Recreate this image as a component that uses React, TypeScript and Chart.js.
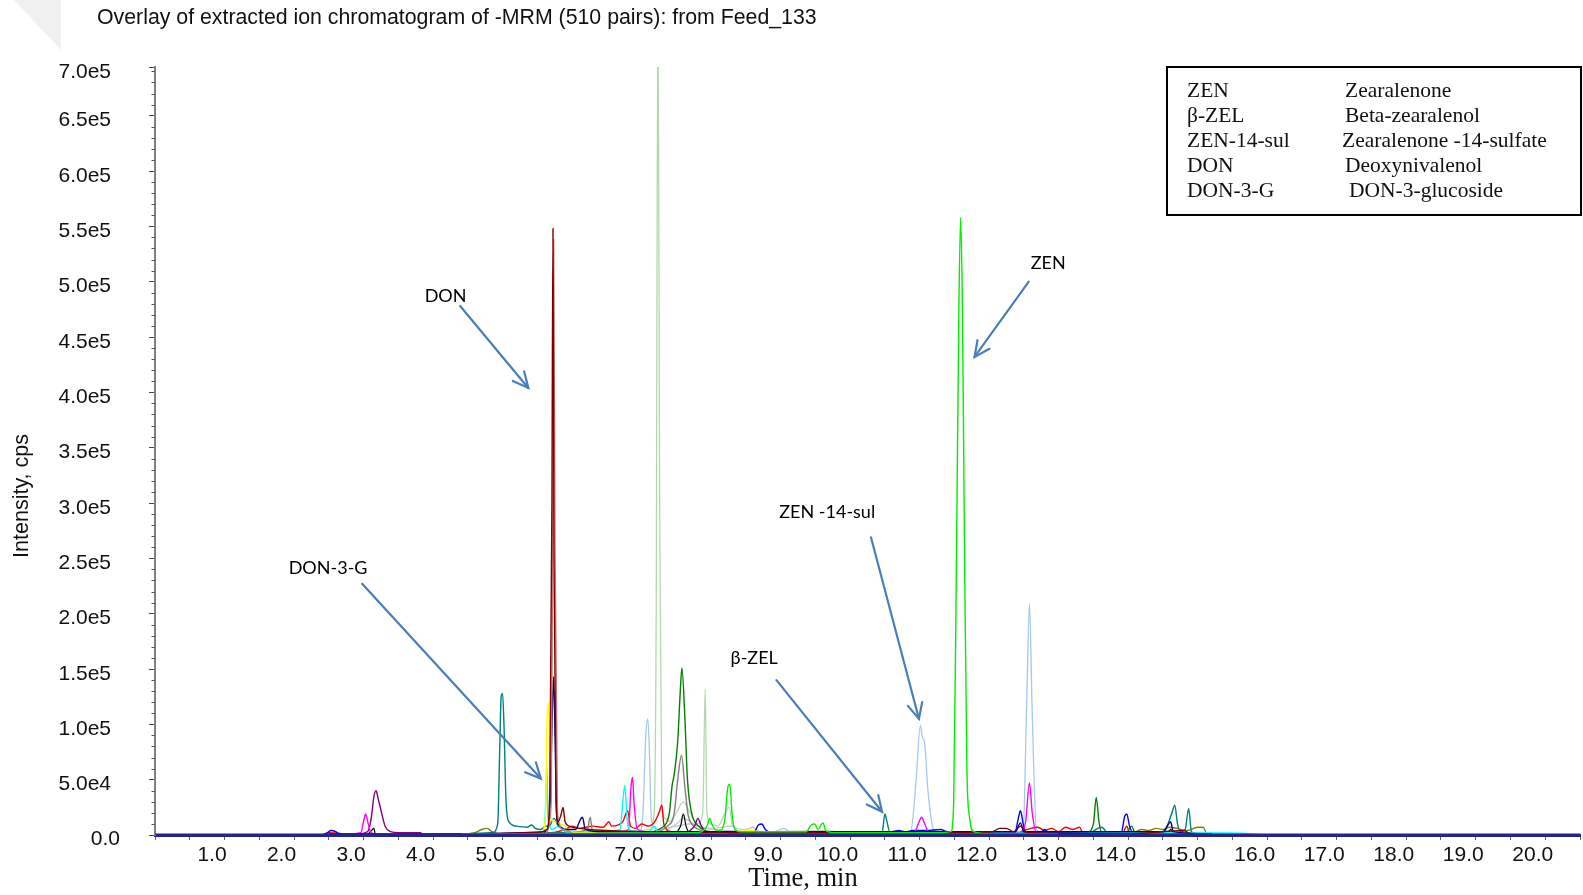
import React, { useEffect, useRef } from 'react';
import { Chart, registerables } from 'chart.js';

Chart.register(...registerables);

type Pt = [number, number];

// ---------- text ----------
const chartTitle = 'Overlay of extracted ion chromatogram of -MRM (510 pairs): from Feed_133';
const xAxisTitle = 'Time, min';
const yAxisTitle = 'Intensity, cps';

// ---------- axes ----------
const xMin = 0;
const xMax = 20.5;
const xMajorTicks = [1.0, 2.0, 3.0, 4.0, 5.0, 6.0, 7.0, 8.0, 9.0, 10.0, 11.0, 12.0, 13.0, 14.0, 15.0, 16.0, 17.0, 18.0, 19.0, 20.0];
const yMajorTicks = [0, 50000, 100000, 150000, 200000, 250000, 300000, 350000, 400000, 450000, 500000, 550000, 600000, 650000];
const yMax = 694000;
const yTopLabel = '7.0e5';

// ---------- legend table ----------
const legendAbbrev = ['ZEN', 'β-ZEL', 'ZEN-14-sul', 'DON', 'DON-3-G'];
const legendNames = ['Zearalenone', 'Beta-zearalenol', 'Zearalenone -14-sulfate', 'Deoxynivalenol', 'DON-3-glucoside'];

// ---------- annotations: label, label position, arrow start, arrow tip (time, cps) ----------
const annotationLabels = ['DON', 'ZEN', 'DON-3-G', 'ZEN -14-sul', 'β-ZEL'];
const annotationText: Pt[] = [[4.18, 487000], [12.85, 517000], [2.49, 241000], [9.67, 292000], [8.62, 160000]];
const annotationFrom: Pt[] = [[4.39, 478000], [12.57, 500000], [2.98, 227000], [10.30, 269000], [8.94, 140000]];
const annotationTip: Pt[] = [[5.37, 404000], [11.79, 432000], [5.55, 51000], [10.99, 105000], [10.46, 21000]];

// ---------- traces (time min, intensity cps) ----------
const baselineTrace: Pt[] = [[0, 0], [20.5, 0]];

const maroonTrace: Pt[] = [
  [4.5, 1000], [5.5, 2000], [5.64, 5000], [5.68, 40000], [5.71, 300000], [5.725, 548000], [5.74, 250000],
  [5.77, 30000], [5.8, 12000], [5.84, 18000], [5.87, 25000], [5.9, 12000], [5.96, 8000], [6.1, 6000],
  [6.5, 4000], [7.0, 3000], [8.0, 2000], [11.5, 2000], [12.05, 3000], [12.15, 6000], [12.25, 6000],
  [12.35, 3000], [12.45, 8000], [12.55, 2000], [14.0, 1000], [14.8, 4000], [14.9, 1000], [15.2, 500],
];
const indianRedTrace: Pt[] = [
  [5.62, 2000], [5.7, 30000], [5.72, 250000], [5.735, 538000], [5.755, 260000], [5.79, 20000], [5.87, 5000], [6.0, 2000],
];
const navyTrace: Pt[] = [
  [2.5, 1000], [4.4, 1000], [5.62, 3000], [5.68, 20000], [5.715, 110000], [5.735, 143000], [5.755, 90000],
  [5.78, 15000], [5.82, 8000], [5.9, 5000], [6.05, 5000], [6.12, 14000], [6.15, 16000], [6.19, 5000],
  [6.4, 3000], [7.0, 3000], [7.6, 3000], [10.5, 3000], [11.3, 3000], [12.38, 3000], [12.45, 11000],
  [12.5, 3000], [14.5, 3000], [14.58, 10000], [14.61, 12000], [14.65, 3000], [15.2, 1000],
];
const yellowTrace: Pt[] = [
  [4.8, 1000], [5.57, 2000], [5.62, 20000], [5.64, 100000], [5.66, 120000], [5.68, 60000], [5.7, 15000],
  [5.76, 12000], [5.82, 10000], [5.9, 8000], [5.96, 3000], [6.4, 2000], [7.3, 2000], [8.0, 1000], [8.6, 4000], [8.7, 1000],
];
const cyanTrace: Pt[] = [
  [4.4, 1000], [5.57, 1000], [5.615, 20000], [5.635, 64000], [5.655, 15000], [5.72, 5000], [5.8, 8000],
  [5.9, 3000], [6.3, 2000], [6.69, 5000], [6.73, 30000], [6.76, 45000], [6.79, 15000], [6.84, 4000],
  [7.1, 3000], [7.19, 8000], [7.23, 3000], [8.0, 2000], [9.0, 2000], [11.0, 2000], [13.0, 1500],
  [14.0, 2000], [15.0, 2000], [15.8, 1000], [16.0, 0],
];
const tealTrace: Pt[] = [
  [4.4, 1000], [4.85, 2000], [4.93, 10000], [4.96, 80000], [4.98, 125000], [5.0, 128000], [5.02, 100000],
  [5.05, 30000], [5.09, 12000], [5.2, 8000], [5.35, 7000], [5.42, 9000], [5.47, 6000], [5.55, 5000],
  [5.62, 8000], [5.67, 8000], [5.74, 15000], [5.8, 8000], [5.87, 5000], [6.0, 3000], [7.0, 2000],
  [10.0, 1500], [10.46, 2000], [10.5, 19000], [10.53, 12000], [10.57, 3000], [11.5, 2000], [13.4, 1000],
  [13.62, 7000], [13.72, 1000], [14.5, 2000], [14.63, 20000], [14.67, 27000], [14.71, 10000], [14.75, 3000],
  [14.82, 5000], [14.87, 24000], [14.91, 3000], [15.0, 1000], [15.3, 500],
];
const purpleTrace: Pt[] = [
  [2.8, 0], [3.06, 3000], [3.11, 15000], [3.15, 35000], [3.18, 40000], [3.21, 33000], [3.26, 20000],
  [3.31, 8000], [3.39, 3000], [3.5, 2000], [3.82, 2000], [3.85, 0], [4.4, 500], [7.6, 2000], [7.76, 8000],
  [7.81, 15000], [7.86, 8000], [7.96, 2000], [8.5, 1000], [15.0, 500],
];
const magentaTrace: Pt[] = [
  [2.5, 0], [2.96, 2000], [3.0, 12000], [3.03, 19000], [3.06, 12000], [3.1, 3000], [3.16, 1000],
  [3.3, 0], [4.4, 500], [6.0, 1000], [6.6, 2000], [6.81, 5000], [6.85, 45000], [6.87, 52000], [6.89, 30000],
  [6.94, 5000], [7.2, 2000], [8.0, 2000], [10.92, 2000], [10.98, 10000], [11.03, 16000], [11.08, 9000],
  [11.14, 2000], [12.42, 2000], [12.52, 10000], [12.58, 47000], [12.62, 20000], [12.68, 2000], [13.0, 1000], [15.0, 500],
];
const blueTrace: Pt[] = [
  [2.4, 0], [2.48, 2000], [2.53, 4000], [2.6, 3000], [2.65, 1000], [2.7, 0], [4.4, 500], [7.0, 2000],
  [8.62, 3000], [8.68, 9000], [8.73, 10000], [8.78, 5000], [8.87, 2000], [10.4, 2000], [10.6, 3000],
  [10.7, 4000], [10.8, 3000], [10.9, 4000], [11.1, 4000], [11.3, 5000], [11.4, 3000], [12.37, 2000],
  [12.42, 15000], [12.45, 22000], [12.49, 10000], [12.52, 3000], [12.75, 3000], [12.8, 5000], [12.85, 2000],
  [13.9, 2000], [13.95, 17000], [13.98, 19000], [14.02, 8000], [14.07, 2000], [15.0, 1000],
];
const paleBlueTrace: Pt[] = [
  [4.4, 1000], [6.5, 2000], [6.97, 3000], [7.02, 20000], [7.06, 90000], [7.09, 105000], [7.11, 80000],
  [7.14, 15000], [7.22, 5000], [7.5, 8000], [7.7, 10000], [8.0, 5000], [8.9, 3000], [9.05, 6000],
  [9.15, 2000], [10.5, 2000], [10.87, 3000], [10.95, 50000], [11.01, 99000], [11.04, 88000], [11.07, 84000],
  [11.12, 40000], [11.2, 5000], [11.3, 2000], [12.3, 2000], [12.49, 5000], [12.54, 120000], [12.58, 209000],
  [12.62, 110000], [12.68, 5000], [12.8, 2000], [14.0, 1000], [15.8, 1000],
];
const paleGreenTrace: Pt[] = [
  [4.4, 1000], [6.0, 2000], [6.9, 3000], [7.12, 5000], [7.18, 20000], [7.21, 200000], [7.235, 760000],
  [7.26, 300000], [7.29, 30000], [7.34, 15000], [7.4, 12000], [7.5, 20000], [7.6, 30000], [7.7, 20000],
  [7.8, 10000], [7.88, 20000], [7.915, 132000], [7.94, 20000], [8.0, 10000], [8.1, 8000], [8.2, 20000],
  [8.26, 25000], [8.31, 8000], [8.5, 5000], [8.6, 7000], [8.7, 3000], [9.6, 4000], [10.0, 2000],
  [11.0, 2000], [12.0, 1000], [13.5, 1000],
];
const greenTrace: Pt[] = [
  [4.4, 1000], [7.0, 2000], [7.32, 8000], [7.4, 20000], [7.44, 45000], [7.47, 55000], [7.52, 85000],
  [7.555, 128000], [7.58, 151000], [7.62, 110000], [7.66, 50000], [7.72, 20000], [7.82, 8000], [7.92, 4000],
  [8.0, 3000], [13.4, 2000], [13.5, 10000], [13.54, 34000], [13.58, 12000], [13.62, 2000], [13.97, 2000],
  [14.05, 8000], [14.1, 2000], [15.0, 1000],
];
const grayTrace: Pt[] = [
  [4.4, 1000], [5.9, 2000], [6.22, 5000], [6.26, 16000], [6.29, 5000], [6.5, 3000], [7.2, 3000],
  [7.37, 8000], [7.47, 20000], [7.52, 50000], [7.575, 72000], [7.62, 45000], [7.67, 18000], [7.72, 10000],
  [7.82, 5000], [8.0, 2000], [9.0, 1000],
];
const silverTrace: Pt[] = [
  [7.3, 2000], [7.5, 10000], [7.6, 15000], [7.7, 12000], [7.8, 8000], [8.0, 6000], [8.3, 8000], [8.4, 3000], [9.0, 1000],
];
const blackTrace: Pt[] = [
  [3.05, 0], [3.1, 3000], [3.15, 6000], [3.17, 0], [7.4, 500], [7.56, 8000], [7.6, 19000], [7.64, 8000],
  [7.7, 1000], [14.56, 1000], [14.61, 5000], [14.66, 1000],
];
const limeTrace: Pt[] = [
  [4.4, 1000], [7.8, 2000], [7.94, 8000], [7.98, 15000], [8.01, 10000], [8.06, 5000], [8.13, 4000],
  [8.2, 15000], [8.24, 43000], [8.27, 46000], [8.3, 20000], [8.34, 5000], [8.42, 3000], [9.37, 3000],
  [9.44, 9000], [9.49, 10000], [9.54, 5000], [9.58, 9000], [9.61, 11000], [9.65, 4000], [9.8, 2000],
  [11.3, 2000], [11.45, 3000], [11.49, 30000], [11.53, 250000], [11.565, 478000], [11.59, 558000],
  [11.615, 478000], [11.65, 230000], [11.68, 60000], [11.72, 15000], [11.78, 3000], [11.9, 1500], [13.0, 1000],
];
const redTrace: Pt[] = [
  [2.4, 0], [2.5, 2000], [2.7, 1000], [2.8, 0], [4.4, 500], [5.7, 2000], [5.9, 5000], [6.0, 8000],
  [6.1, 6000], [6.3, 8000], [6.45, 7000], [6.53, 12000], [6.57, 8000], [6.66, 9000], [6.73, 12000],
  [6.8, 22000], [6.84, 8000], [6.92, 6000], [7.0, 10000], [7.1, 8000], [7.19, 12000], [7.25, 20000],
  [7.29, 27000], [7.32, 10000], [7.42, 3000], [7.6, 2000], [8.0, 1000], [12.4, 1000], [12.5, 4000],
  [12.6, 6000], [12.7, 7000], [12.8, 4000], [12.9, 6000], [13.0, 3000], [13.1, 7000], [13.2, 5000],
  [13.3, 7000], [13.35, 2000], [13.92, 2000], [13.98, 8000], [14.02, 2000], [15.0, 500],
];
const oliveTrace: Pt[] = [
  [4.4, 500], [4.6, 2000], [4.7, 5000], [4.78, 6000], [4.85, 3000], [4.95, 1000], [6.0, 1000],
  [13.8, 1000], [14.1, 3000], [14.2, 5000], [14.3, 4000], [14.4, 6000], [14.5, 5000], [14.6, 7000],
  [14.7, 6000], [14.85, 4000], [15.0, 7000], [15.08, 7000], [15.13, 1000], [15.3, 0],
];

// drawing order: first = top
const traces: { data: Pt[]; color: string; width: number }[] = [
  { data: baselineTrace, color: '#25258c', width: 3 },
  { data: limeTrace, color: '#00ee00', width: 1.4 },
  { data: maroonTrace, color: '#800000', width: 1.4 },
  { data: indianRedTrace, color: '#c47a7a', width: 1.4 },
  { data: navyTrace, color: '#000080', width: 1.4 },
  { data: yellowTrace, color: '#ffff00', width: 1.4 },
  { data: cyanTrace, color: '#00ffff', width: 1.4 },
  { data: tealTrace, color: '#008080', width: 1.4 },
  { data: magentaTrace, color: '#ff00ff', width: 1.4 },
  { data: purpleTrace, color: '#800080', width: 1.4 },
  { data: blueTrace, color: '#0000ff', width: 1.4 },
  { data: blackTrace, color: '#000000', width: 1.2 },
  { data: greenTrace, color: '#008000', width: 1.4 },
  { data: grayTrace, color: '#808080', width: 1.4 },
  { data: redTrace, color: '#ff0000', width: 1.4 },
  { data: oliveTrace, color: '#808000', width: 1.4 },
  { data: silverTrace, color: '#c8c8c8', width: 1.2 },
  { data: paleBlueTrace, color: '#a6c8ec', width: 1.3 },
  { data: paleGreenTrace, color: '#b4d8ae', width: 1.3 },
];

const SANS = "'Liberation Sans', Arial, sans-serif";
const NARROW = "'Liberation Sans Narrow', 'Arial Narrow', 'Liberation Sans', sans-serif";
const SERIF = "'Liberation Serif', 'Times New Roman', serif";
const NOTE = "Lato, 'Open Sans', sans-serif";

function formatIntensity(v: number): string {
  if (v === 0) return '0.0';
  const e = Math.floor(Math.log10(v) + 1e-9);
  return (v / Math.pow(10, e)).toFixed(1) + 'e' + e;
}

const decorPlugin = {
  id: 'decor',
  beforeDraw(chart: any) {
    const ctx = chart.ctx;
    ctx.save();
    ctx.fillStyle = '#f0f0f0';
    ctx.beginPath();
    ctx.moveTo(14, 0);
    ctx.lineTo(61, 0);
    ctx.lineTo(61, 50);
    ctx.closePath();
    ctx.fill();
    ctx.restore();
  },
  afterDraw(chart: any) {
    const ctx = chart.ctx;
    const xs = chart.scales.x;
    const ys = chart.scales.y;
    const area = chart.chartArea;
    ctx.save();

    // minor y ticks every 1e4
    ctx.strokeStyle = '#555';
    ctx.lineWidth = 1;
    for (let v = 10000; v < yMax; v += 10000) {
      if (v % 50000 === 0) continue;
      const py = Math.round(ys.getPixelForValue(v)) + 0.5;
      ctx.beginPath();
      ctx.moveTo(area.left - 3.5, py);
      ctx.lineTo(area.left, py);
      ctx.stroke();
    }

    // zero label of the y axis (sits further right in the original)
    ctx.fillStyle = '#111';
    ctx.font = `21px ${SANS}`;
    ctx.textAlign = 'right';
    ctx.textBaseline = 'middle';
    ctx.fillText(formatIntensity(0), 120, ys.getPixelForValue(0) + 4);

    // title
    ctx.font = `21.3px ${SANS}`;
    ctx.textAlign = 'left';
    ctx.fillText(chartTitle, 97, 18);

    // y axis title
    ctx.save();
    ctx.translate(22, 496);
    ctx.rotate(-Math.PI / 2);
    ctx.textAlign = 'center';
    ctx.font = `21.5px ${SANS}`;
    ctx.fillText(yAxisTitle, 0, 0);
    ctx.restore();

    // x axis title
    ctx.font = `26.5px ${SERIF}`;
    ctx.textAlign = 'center';
    ctx.fillText(xAxisTitle, 803, 879);

    // legend table
    ctx.strokeStyle = '#000';
    ctx.lineWidth = 2;
    ctx.strokeRect(1167, 67, 414, 148);
    ctx.font = `21.5px ${SERIF}`;
    ctx.textAlign = 'left';
    ctx.textBaseline = 'alphabetic';
    const nameDx = [0, 0, -3, 0, 4];
    legendAbbrev.forEach((a, i) => {
      const by = 97 + i * 25;
      ctx.fillText(a, 1187, by);
      ctx.fillText(legendNames[i], 1345 + nameDx[i], by);
    });

    // annotations with arrows
    ctx.textAlign = 'center';
    ctx.textBaseline = 'middle';
    ctx.font = `18px ${NOTE}`;
    annotationLabels.forEach((label, i) => {
      const tx = xs.getPixelForValue(annotationText[i][0]);
      const ty = ys.getPixelForValue(annotationText[i][1]);
      ctx.fillStyle = '#000';
      ctx.fillText(label, tx, ty);
      const x0 = xs.getPixelForValue(annotationFrom[i][0]);
      const y0 = ys.getPixelForValue(annotationFrom[i][1]);
      const x1 = xs.getPixelForValue(annotationTip[i][0]);
      const y1 = ys.getPixelForValue(annotationTip[i][1]);
      ctx.strokeStyle = '#4a7ebb';
      ctx.lineWidth = 2.2;
      ctx.lineCap = 'round';
      ctx.beginPath();
      ctx.moveTo(x0, y0);
      ctx.lineTo(x1, y1);
      ctx.stroke();
      const ang = Math.atan2(y1 - y0, x1 - x0);
      const hl = 17;
      const spread = 0.45;
      ctx.beginPath();
      ctx.moveTo(x1 - hl * Math.cos(ang - spread), y1 - hl * Math.sin(ang - spread));
      ctx.lineTo(x1, y1);
      ctx.lineTo(x1 - hl * Math.cos(ang + spread), y1 - hl * Math.sin(ang + spread));
      ctx.stroke();
    });

    ctx.restore();
  },
};

export default function App() {
  const canvasRef = useRef<HTMLCanvasElement | null>(null);

  useEffect(() => {
    const canvas = canvasRef.current;
    if (!canvas) return;
    const chart = new Chart(canvas, {
      type: 'line',
      data: {
        datasets: traces.map((t) => ({
          data: t.data.map(([x, y]) => ({ x, y })),
          borderColor: t.color,
          backgroundColor: t.color,
          borderWidth: t.width,
          pointRadius: 0,
          fill: false,
          tension: 0.3,
          cubicInterpolationMode: 'monotone' as const,
        })),
      },
      options: {
        animation: false,
        responsive: false,
        maintainAspectRatio: false,
        events: [],
        layout: { padding: { top: 67, left: 0, right: 0, bottom: 0 } },
        plugins: {
          legend: { display: false },
          tooltip: { enabled: false },
          title: { display: false },
        },
        scales: {
          x: {
            type: 'linear',
            min: xMin,
            max: xMax,
            afterFit: (s: any) => { s.height = 60; },
            border: { color: '#25258c', width: 3 },
            grid: { drawOnChartArea: false, drawTicks: true, tickLength: 5, color: '#666' },
            ticks: {
              stepSize: 0.5,
              autoSkip: false,
              maxRotation: 0,
              minRotation: 0,
              align: 'center',
              labelOffset: -12.5,
              padding: 3,
              color: '#111',
              font: { family: NARROW, size: 21 },
              callback: (v: any) => (xMajorTicks.includes(Number(v)) ? Number(v).toFixed(1) : ''),
            },
          },
          y: {
            type: 'linear',
            min: 0,
            max: yMax,
            afterFit: (s: any) => { s.width = 155; },
            afterBuildTicks: (s: any) => {
              s.ticks = [...yMajorTicks, yMax].map((v) => ({ value: v }));
            },
            border: { color: '#808080', width: 2 },
            grid: { drawOnChartArea: false, drawTicks: true, tickLength: 6, color: '#444' },
            ticks: {
              padding: 38,
              labelOffset: 5,
              color: '#111',
              font: { family: SANS, size: 21 },
              callback: (v: any) => (Number(v) === yMax ? yTopLabel : Number(v) === 0 ? '' : formatIntensity(Number(v))),
            },
          },
        },
      },
      plugins: [decorPlugin],
    } as any);
    return () => chart.destroy();
  }, []);

  return (
    <div style={{ position: 'absolute', left: 0, top: 0, width: 1583, height: 895, background: '#fff' }}>
      <canvas ref={canvasRef} width={1583} height={895} style={{ display: 'block', width: 1583, height: 895 }} />
    </div>
  );
}
